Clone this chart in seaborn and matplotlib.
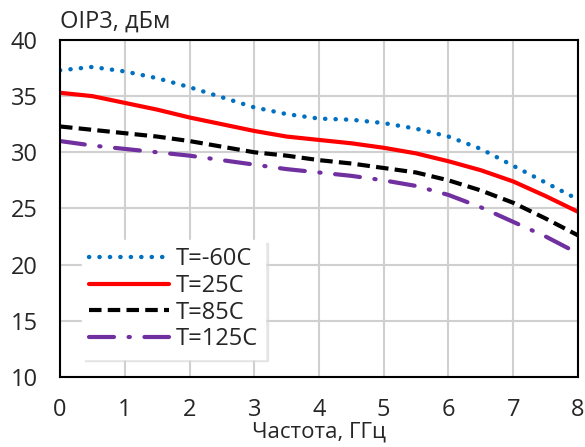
import numpy as np
import pandas as pd
import matplotlib
matplotlib.use('Agg')
import matplotlib.pyplot as plt
import seaborn as sns

# frequency, GHz
freq = [0, 0.5, 1, 1.5, 2, 2.5, 3, 3.5, 4, 4.5, 5, 5.5, 6, 6.5, 7, 7.5, 8]
# OIP3, dBm
t_m60 = [37.3, 37.6, 37.2, 36.6, 35.8, 34.9, 34.0, 33.4, 33.0, 32.9, 32.6, 32.1, 31.4, 30.3, 28.8, 27.3, 25.8]
t_25 = [35.3, 35.0, 34.4, 33.8, 33.1, 32.5, 31.9, 31.4, 31.1, 30.8, 30.4, 29.9, 29.2, 28.4, 27.4, 26.1, 24.7]
t_85 = [32.3, 32.0, 31.7, 31.4, 31.0, 30.5, 30.0, 29.7, 29.3, 29.0, 28.6, 28.2, 27.5, 26.6, 25.5, 24.1, 22.6]
t_125 = [31.0, 30.6, 30.3, 30.0, 29.7, 29.3, 28.9, 28.5, 28.2, 27.9, 27.5, 27.0, 26.2, 25.1, 23.8, 22.5, 21.0]
labels = ['T=-60C', 'T=25C', 'T=85C', 'T=125C']

sns.set_style('white')
plt.rcParams['font.family'] = ['Open Sans', 'DejaVu Sans']

fig = plt.figure(figsize=(5.85, 4.47), dpi=100)
ax = fig.add_axes([0.1026, 0.157, 0.8854, 0.7535])

styles = [
    dict(color='#0070C0', linestyle=(0, (0.05, 2.3)), dash_capstyle='round', linewidth=3.2),
    dict(color='#FF0000', linestyle='-', linewidth=3),
    dict(color='black', linestyle=(0, (3, 1.5)), linewidth=3),
    dict(color='#7030A0', linestyle=(0, (6, 3.5, 0.3, 3.5)), dash_capstyle='round', linewidth=3),
]
for ys, lab, st in zip([t_m60, t_25, t_85, t_125], labels, styles):
    df = pd.DataFrame({'f': freq, 'p': ys})
    sns.lineplot(data=df, x='f', y='p', ax=ax, label=lab, **st)

ax.set_xlim(0, 8)
ax.set_ylim(10, 40)
ax.set_xticks(range(0, 9))
ax.set_yticks(range(10, 41, 5))
ax.grid(True, color='#d0d0d0', linewidth=1.5)
for s in ax.spines.values():
    s.set_color('black')
    s.set_linewidth(1.5)
ax.tick_params(axis='both', length=0, labelsize=17)
ax.tick_params(axis='x', pad=15)
ax.tick_params(axis='y', pad=16)
ax.set_xlabel('Частота, ГГц', fontsize=16, labelpad=0)
ax.set_ylabel('')
fig.text(0.103, 0.925, 'OIP3, дБм', fontsize=17, ha='left', va='bottom')

leg = ax.legend(loc='upper left', bbox_to_anchor=(0.042, 0.4065), fontsize=17,
                frameon=True, fancybox=False, shadow={'color': '0.85', 'alpha': 0.6},
                handlelength=3.4, borderpad=0.3, labelspacing=0.12, handletextpad=0.3,
                borderaxespad=0)
leg.get_frame().set_edgecolor('white')
leg.get_frame().set_alpha(1)

fig.savefig('out.png', dpi=100)
